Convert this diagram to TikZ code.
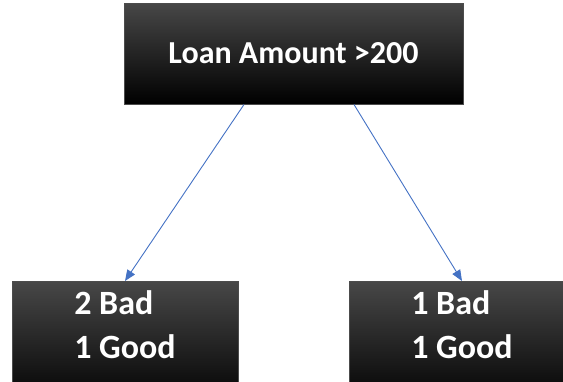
\documentclass[tikz,border=0pt]{standalone}
\usepackage{fontspec}
\setmainfont{Carlito}
\usetikzlibrary{arrows.meta}
\definecolor{officeblue}{RGB}{68,114,196}

\begin{document}
\begin{tikzpicture}[
        x=1pt, y=-1pt,
        box/.style={
          draw=black!70,
          line width=1pt,
          top color=black!72,
          middle color=black,
          bottom color=black,
          text=white,
          font=\fontsize{34}{44}\selectfont\bfseries
        },
        leaf/.style={
          box,
          anchor=north,
          align=left,
          minimum width=226pt,
          inner ysep=9pt
        },
        link/.style={
          draw=officeblue,
          line width=0.9pt,
          -{Triangle[length=11pt,width=9pt]}
        }
      ]
      \clip (0,0) rectangle (563,381);

      \node[box, minimum width=339pt, minimum height=101pt,
        font=\fontsize{32}{36}\selectfont\bfseries] (root) at (293.5,53.5)
        {Loan Amount >200};
      \node[leaf] (leftleaf) at (125,281)
        {2 Bad\\1 Good\rule[-40pt]{0pt}{40pt}};
      \node[leaf] (rightleaf) at (462,281)
        {1 Bad\\1 Good\rule[-40pt]{0pt}{40pt}};

      \draw[link] ([xshift=-49.5pt]root.south) -- (leftleaf.north);
      \draw[link] ([xshift=60.5pt]root.south) -- (rightleaf.north);
    \end{tikzpicture}
\end{document}
